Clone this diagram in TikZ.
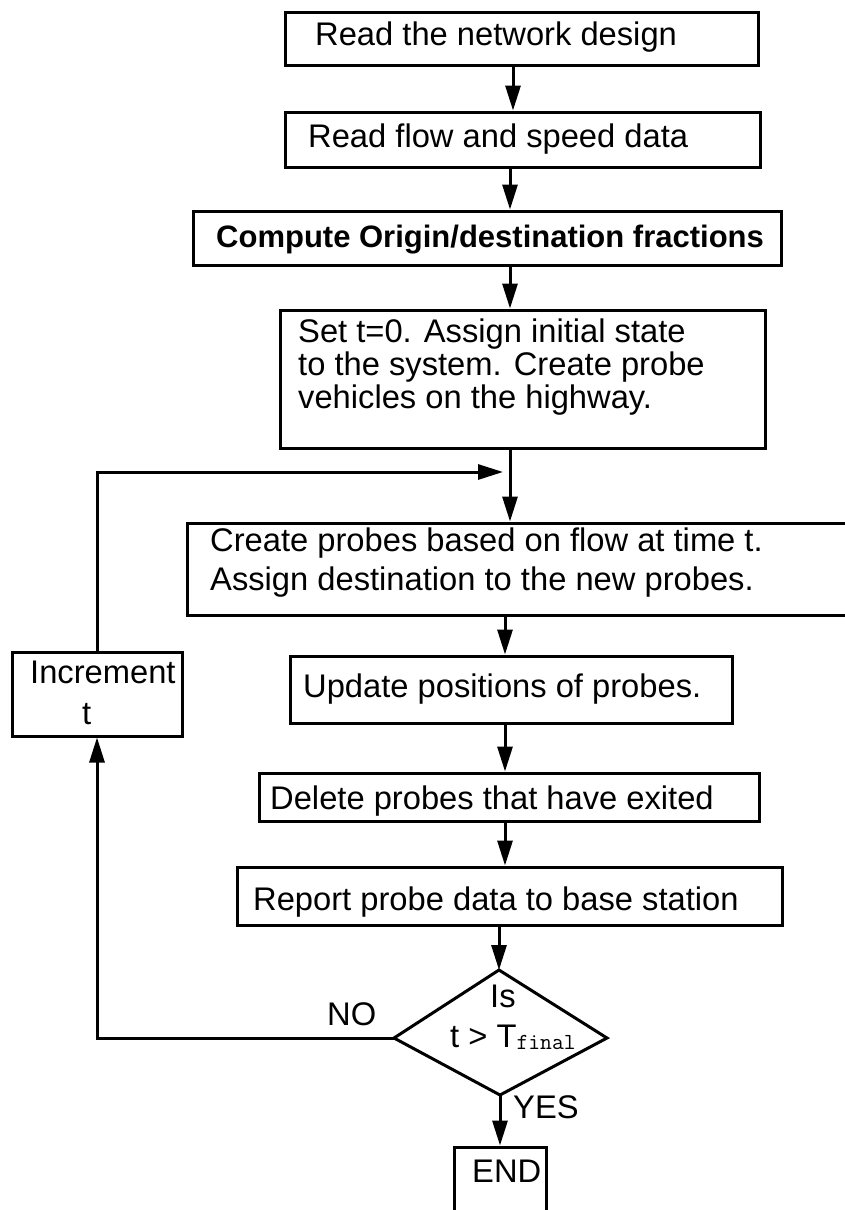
\documentclass[tikz,border=0pt]{standalone}
\usepackage{fontspec}
\setmainfont{Liberation Sans}
\usetikzlibrary{arrows.meta}
\begin{document}
\begin{tikzpicture}[x=1pt,y=-1pt,
  box/.style={draw, line width=3pt, inner sep=0pt},
  lbl/.style={anchor=base west, inner sep=0pt, font=\fontsize{32.7}{36}\selectfont},
  arr/.style={line width=3pt, -{Triangle[length=25pt,width=15pt]}},
  line join=miter
]
\clip (0,0) rectangle (845,1210);

% process boxes
\node[box, minimum width=473pt, minimum height=53pt]  (b1)  at (521.5,38.5) {};
\node[box, minimum width=475pt, minimum height=55pt]  (b2)  at (522.5,139.5) {};
\node[box, minimum width=588pt, minimum height=54pt]  (b3)  at (487,238) {};
\node[box, minimum width=485pt, minimum height=138pt] (b4)  at (522.5,379) {};
\node[box, minimum width=683pt, minimum height=92pt]  (b5)  at (528.5,569) {};
\node[box, minimum width=442pt, minimum height=67pt]  (b6)  at (511,689.5) {};
\node[box, minimum width=500pt, minimum height=48pt]  (b7)  at (509,797) {};
\node[box, minimum width=545pt, minimum height=58pt]  (b8)  at (509.5,896) {};
\node[box, minimum width=170pt, minimum height=84pt]  (inc) at (97,694) {};
\node[box, minimum width=92pt,  minimum height=78pt]  (fin) at (500,1186) {};

% decision diamond
\coordinate (dt) at (499,970);
\coordinate (dr) at (607,1038);
\coordinate (db) at (500,1095);
\coordinate (dl) at (394,1038);
\draw[line width=3pt] (dt) -- (dr) -- (db) -- (dl) -- cycle;

% texts
\node[lbl] (t1) at (315,45) {Read the network design};
\node[lbl] (t2) at (308,147) {Read flow and speed data};
\node[lbl, font=\fontsize{31}{36}\selectfont\bfseries] (t3) at (216,247) {Compute Origin/destination fractions};
\node[lbl] (t4a) at (298,342) {Set t=0. Assign initial state};
\node[lbl] (t4b) at (298,375) {to the system. Create probe};
\node[lbl] (t4c) at (298,408) {vehicles on the highway.};
\node[lbl] (t5a) at (210,551) {Create probes based on flow at time t.};
\node[lbl] (t5b) at (210,590) {Assign destination to the new probes.};
\node[lbl] (t6) at (303,697) {Update positions of probes.};
\node[lbl] (t7) at (270,809) {Delete probes that have exited};
\node[lbl] (t8) at (253,910) {Report probe data to base station};
\node[lbl] (ti1) at (30,683) {Increment};
\node[lbl] (ti2) at (82,724) {t};
\node[lbl] (tq1) at (490,1007) {Is};
\node[lbl] (tq2) at (450,1047) {t > T\raisebox{-2pt}{\fontsize{23}{23}\ttfamily final}};
\node[lbl] (tno) at (327,1025) {NO};
\node[lbl] (tyes) at (513,1118) {YES};
\node[lbl] (tend) at (472,1182) {END};

% connector columns
\coordinate (xa) at (513,0);
\coordinate (xb) at (510,0);
\coordinate (xc) at (505,0);
\coordinate (loopin) at (503,472);

\draw[arr] (b1.south -| xa) -- (b2.north -| xa);
\draw[arr] (b2.south -| xb) -- (b3.north -| xb);
\draw[arr] (b3.south -| xb) -- (b4.north -| xb);
\draw[arr] (b4.south -| xb) -- (b5.north -| xb);
\draw[arr] (b5.south -| xc) -- (b6.north -| xc);
\draw[arr] (b6.south -| xc) -- (b7.north -| xc);
\draw[arr] (b7.south -| xc) -- (b8.north -| xc);
\draw[arr] (b8.south -| dt) -- (dt);
\draw[arr] (db) -- (fin.north -| db);
\draw[arr] (inc.north) |- (loopin);
\draw[arr] (dl) -| (inc.south);
\end{tikzpicture}
\end{document}
